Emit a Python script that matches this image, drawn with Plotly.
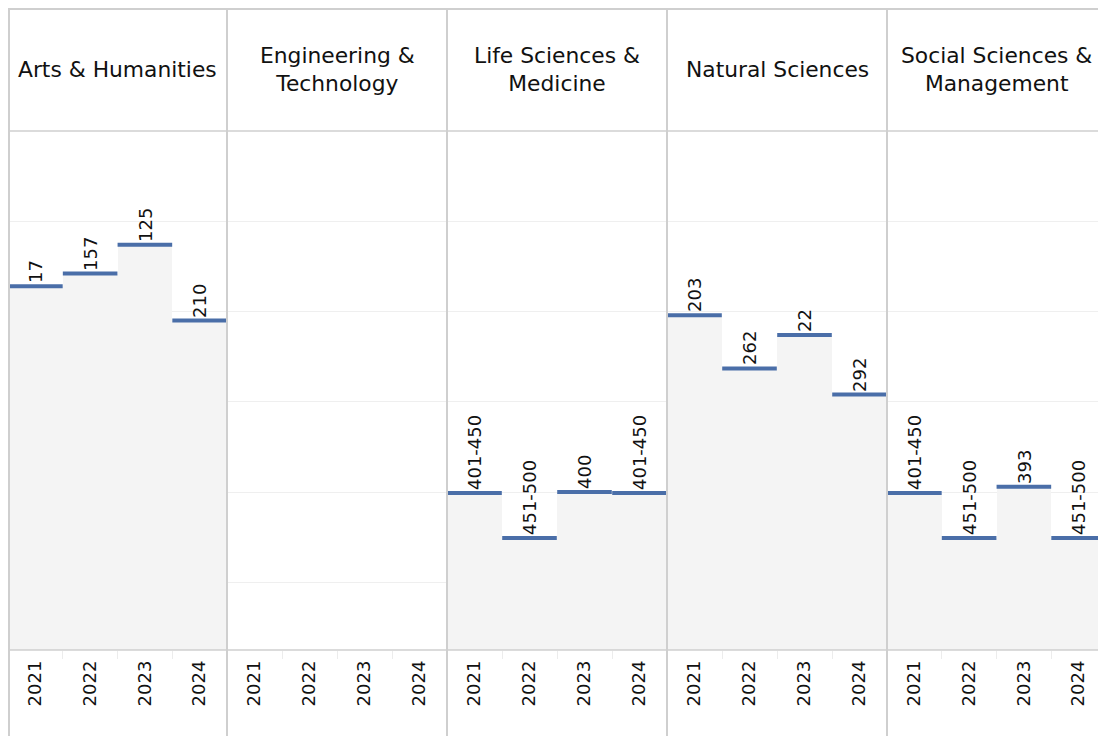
import plotly.graph_objects as go

# ---------------- data ----------------
panels = ["Arts & Humanities", "Engineering &<br>Technology", "Life Sciences &<br>Medicine",
          "Natural Sciences", "Social Sciences &<br>Management"]
years = ["2021", "2022", "2023", "2024"]

arts_values = [172, 158, 126, 210]
arts_labels = ["17", "157", "125", "210"]
eng_values = []
eng_labels = []
life_values = [401, 451, 400, 401]
life_labels = ["401-450", "451-500", "400", "401-450"]
nat_values = [204, 263, 226, 292]
nat_labels = ["203", "262", "22", "292"]
soc_values = [401, 451, 394, 451]
soc_labels = ["401-450", "451-500", "393", "451-500"]

series = [(arts_values, arts_labels), (eng_values, eng_labels), (life_values, life_labels),
          (nat_values, nat_labels), (soc_values, soc_labels)]

grid_vals = [100, 200, 300, 400, 500]
AXIS_BOTTOM = 575

# ---------------- layout geometry (figure px; page adds 8px body margin) ----------------
W, H = 1106, 736
OFF = 8
edges = [x - OFF for x in [8, 227, 447, 667, 887, 1106]]
plot_top, plot_bottom, header_top = 131 - OFF, 650 - OFF, 8 - OFF
y_dom = [1 - plot_bottom / H, 1 - plot_top / H]

BLUE = "#4a6ea8"
FILL = "#f4f4f4"
BORDER = "#cfcfcf"
FONT = "DejaVu Sans"

fig = go.Figure()
layout = {}
for i, (vals, labs) in enumerate(series):
    n = i + 1
    xa = "x" if n == 1 else f"x{n}"
    ya = "y" if n == 1 else f"y{n}"
    fig.add_trace(go.Scatter(x=years, y=[None] * 4, xaxis=xa, yaxis=ya, showlegend=False,
                             hoverinfo="skip", mode="markers"))
    if vals:
        yrs = years[:len(vals)]
        fig.add_trace(go.Bar(
            x=yrs, y=[v - AXIS_BOTTOM for v in vals], base=AXIS_BOTTOM,
            xaxis=xa, yaxis=ya, width=1, marker=dict(color=FILL, line=dict(width=0)),
            text=labs, textposition="outside", textangle=-90, constraintext="none",
            cliponaxis=False, outsidetextfont=dict(family=FONT, size=18, color="#111"),
            showlegend=False, hoverinfo="skip"))
        fig.add_trace(go.Scatter(
            x=yrs, y=vals, xaxis=xa, yaxis=ya, mode="markers",
            marker=dict(symbol="line-ew", size=39, line=dict(width=4, color=BLUE), color=BLUE),
            showlegend=False, cliponaxis=False, hoverinfo="skip"))
    layout["xaxis" if n == 1 else f"xaxis{n}"] = dict(
        domain=[edges[i] / W, edges[i + 1] / W], anchor=ya, type="category",
        categoryorder="array", categoryarray=years, range=[-0.5, 3.5],
        showgrid=False, zeroline=False, showline=False,
        ticks="outside", tickson="boundaries", ticklen=8, tickcolor="#ececec", tickwidth=1,
        ticklabelstandoff=6,
        tickangle=-90, tickfont=dict(family=FONT, size=18, color="#111"), fixedrange=True)
    layout["yaxis" if n == 1 else f"yaxis{n}"] = dict(
        domain=y_dom, anchor=xa, range=[AXIS_BOTTOM, 0], tickvals=grid_vals,
        showticklabels=False, showgrid=True, gridcolor="#efefef", gridwidth=1,
        zeroline=False, showline=False, ticks="", fixedrange=True)

shapes = []
shapes.append(dict(type="line", xref="paper", yref="paper", x0=edges[0] / W, x1=1,
                   y0=1 - (header_top + 1) / H, y1=1 - (header_top + 1) / H,
                   line=dict(color=BORDER, width=2)))
shapes.append(dict(type="line", xref="paper", yref="paper", x0=edges[0] / W, x1=1,
                   y0=1 - plot_top / H, y1=1 - plot_top / H, line=dict(color=BORDER, width=1.5)))
shapes.append(dict(type="line", xref="paper", yref="paper", x0=edges[0] / W, x1=1,
                   y0=1 - plot_bottom / H, y1=1 - plot_bottom / H, line=dict(color=BORDER, width=1.5)))
for e in edges[:-1]:
    xe = max(e, 1)
    shapes.append(dict(type="line", xref="paper", yref="paper", x0=xe / W, x1=xe / W,
                       y0=0, y1=1 - header_top / H, line=dict(color=BORDER, width=2)))

annotations = []
for i, p in enumerate(panels):
    annotations.append(dict(text=p, xref="paper", yref="paper",
                            x=(edges[i] + edges[i + 1]) / 2 / W, y=1 - (69.5 - OFF) / H,
                            xanchor="center", yanchor="middle", showarrow=False,
                            font=dict(family=FONT, size=21.8, color="#111")))

fig.update_layout(width=W, height=H, margin=dict(l=0, r=0, t=0, b=0),
                  paper_bgcolor="white", plot_bgcolor="white", bargap=0,
                  shapes=shapes, annotations=annotations, **layout)
fig.write_html("out.html")
